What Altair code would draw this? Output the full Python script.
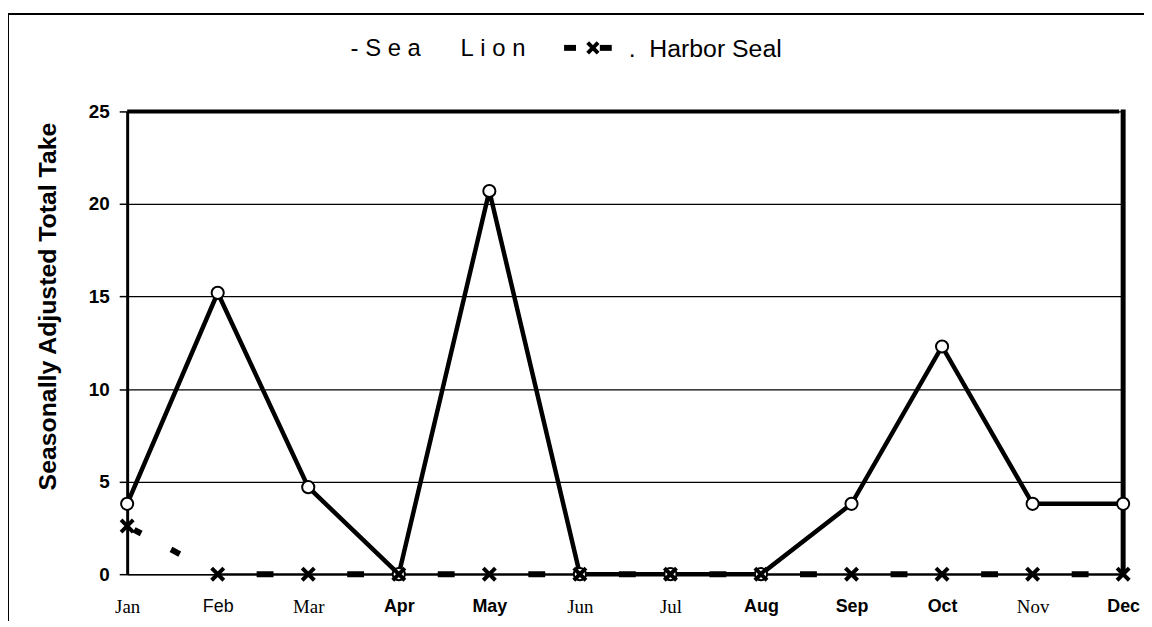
import altair as alt
import pandas as pd

months = ["Jan", "Feb", "Mar", "Apr", "May", "Jun", "Jul", "Aug", "Sep", "Oct", "Nov", "Dec"]
sea_lion = [3.8, 15.2, 4.7, 0, 20.7, 0, 0, 0, 3.8, 12.3, 3.8, 3.8]
harbor_seal = [2.6, 0, 0, 0, 0, 0, 0, 0, 0, 0, 0, 0]
y_ticks = [0, 5, 10, 15, 20, 25]
serif_months = ["Jan", "Mar", "Jun", "Jul", "Nov"]
bold_months = ["Apr", "May", "Aug", "Sep", "Oct", "Dec"]

W, H = 1003, 466
NB = "\u00a0"

df = pd.DataFrame({"month": months, "idx": list(range(12)),
                   "sea_lion": sea_lion, "harbor_seal": harbor_seal})

one = alt.Data(values=[{"k": 0}])

xenc = alt.X("month:N", sort=months,
             scale=alt.Scale(type="point", padding=0, domain=months),
             axis=alt.Axis(
                 title=None, ticks=False, domainColor="black", domainWidth=1.5,
                 labelPadding=24, labelColor="black", labelAngle=0,
                 labelFont={"condition": {"test": f"indexof({serif_months}, datum.value) >= 0",
                                          "value": "Liberation Serif"},
                            "value": "Liberation Sans"},
                 labelFontWeight={"condition": {"test": f"indexof({bold_months}, datum.value) >= 0",
                                                "value": "bold"},
                                  "value": "normal"},
                 labelFontSize={"condition": {"test": f"indexof({serif_months}, datum.value) >= 0",
                                              "value": 19},
                                "value": 18},
             ))

yscale = alt.Scale(domain=[0, 25], nice=False, zero=True)
yaxis = alt.Axis(title="Seasonally Adjusted Total Take", values=y_ticks,
                 grid=True, gridColor="black", gridWidth=1.3, gridOpacity=1,
                 domainColor="black", domainWidth=3, tickColor="black", tickSize=8,
                 tickWidth=1.5, labelPadding=10, labelFont="Liberation Sans",
                 labelFontWeight="bold", labelFontSize=19, labelColor="black",
                 titleFont="Liberation Sans", titleFontWeight="bold", titleFontSize=25,
                 titleColor="black", titleAngle=-90, titleX=-80, titleY=196,
                 titleBaseline="middle", titleAlign="center")

base = alt.Chart(df)

sl_line = base.mark_line(color="black", strokeWidth=4.5).encode(
    x=xenc, y=alt.Y("sea_lion:Q", scale=yscale, axis=yaxis), order="idx:Q")

hs_thin = base.transform_filter("datum.month != 'Jan'").mark_line(
    color="black", strokeWidth=2).encode(x=xenc, y=alt.Y("harbor_seal:Q", scale=yscale), order="idx:Q")

hs_dash = base.transform_filter("datum.month != 'Jan'").mark_line(
    color="black", strokeWidth=6, strokeDash=[17, 74.2], strokeDashOffset=52,
    strokeCap="butt").encode(x=xenc, y=alt.Y("harbor_seal:Q", scale=yscale), order="idx:Q")

hs_first = base.transform_filter("datum.month == 'Jan' || datum.month == 'Feb'").mark_line(
    color="black", strokeWidth=6, strokeDash=[8, 34, 10, 100], strokeDashOffset=144,
    strokeCap="butt").encode(x=xenc, y=alt.Y("harbor_seal:Q", scale=yscale), order="idx:Q")

sl_pts = base.mark_point(shape="circle", filled=True, fill="white", stroke="black",
                         strokeWidth=2, size=150, opacity=1).encode(
    x=xenc, y=alt.Y("sea_lion:Q", scale=yscale))

xshape = "M-1,-1L1,1M-1,1L1,-1"
hs_pts = base.mark_point(shape=xshape, filled=False, stroke="black", strokeWidth=4,
                         size=150, opacity=1).encode(
    x=xenc, y=alt.Y("harbor_seal:Q", scale=yscale))

top_rule = alt.Chart(one).mark_rule(color="black", strokeWidth=4).encode(
    x=alt.value(0), x2=alt.value(999), y=alt.value(0))
right_rule = alt.Chart(one).mark_rule(color="black", strokeWidth=5).encode(
    x=alt.value(W), y=alt.value(-2), y2=alt.value(H))

frame_left = alt.Chart(one).mark_rule(color="black", strokeWidth=2).encode(
    x=alt.value(-120), y=alt.value(-98), y2=alt.value(H + 60))
frame_top = alt.Chart(one).mark_rule(color="black", strokeWidth=2).encode(
    x=alt.value(-121), x2=alt.value(W + 40), y=alt.value(-98))

sea_lion_label = "-" + NB + NB.join("Sea") + NB * 6 + NB.join("Lion")
leg_text1 = alt.Chart(one).mark_text(align="left", baseline="middle", font="Liberation Sans",
                                     fontSize=24, color="black").encode(
    x=alt.value(225), y=alt.value(-63), text=alt.value(sea_lion_label))
leg_dash1 = alt.Chart(one).mark_rule(color="black", strokeWidth=6).encode(
    x=alt.value(440), x2=alt.value(452), y=alt.value(-64))
leg_dash2 = alt.Chart(one).mark_rule(color="black", strokeWidth=6).encode(
    x=alt.value(476), x2=alt.value(488), y=alt.value(-64))
leg_x = alt.Chart(one).mark_point(shape=xshape, filled=False, stroke="black", strokeWidth=4,
                                  size=110, opacity=1).encode(
    x=alt.value(469), y=alt.value(-64))
leg_text2 = alt.Chart(one).mark_text(align="left", baseline="middle", font="Liberation Sans",
                                     fontSize=25, color="black").encode(
    x=alt.value(505), y=alt.value(-63), text=alt.value("." + NB + NB + "Harbor Seal"))

chart = alt.layer(
    sl_line, top_rule, right_rule, hs_thin, hs_dash, hs_first, sl_pts, hs_pts,
    frame_left, frame_top, leg_text1, leg_dash1, leg_dash2, leg_x, leg_text2
).properties(
    width=W, height=H,
    autosize=alt.AutoSizeParams(type="none"),
    padding={"left": 120, "top": 102, "right": 21, "bottom": 45},
).configure_view(stroke=None).configure(background="white")

chart.save("out.html", embed_options={"renderer": "svg", "actions": False})
